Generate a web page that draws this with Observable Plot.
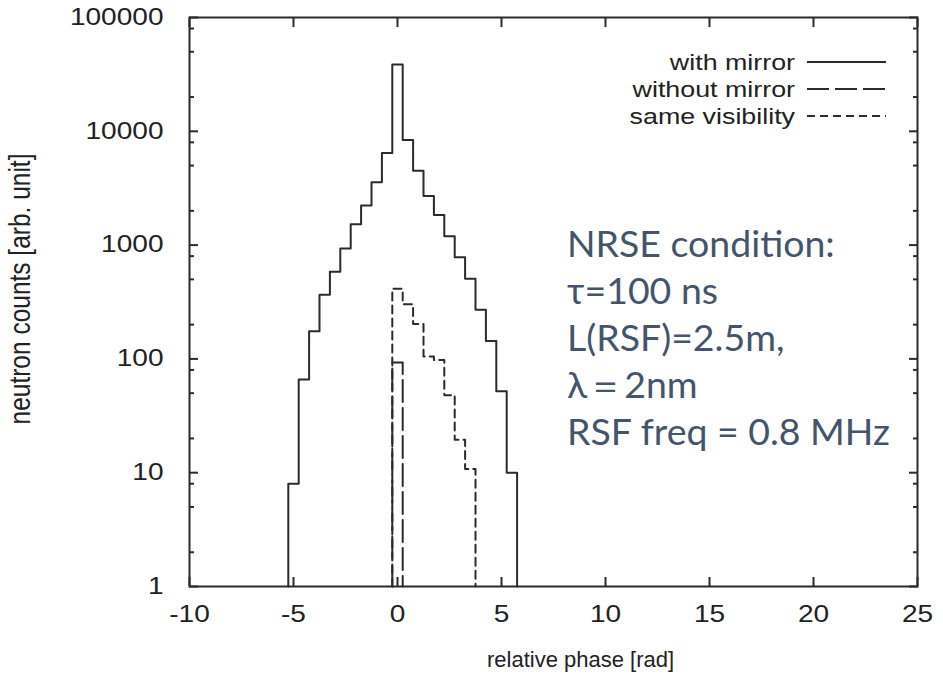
<!DOCTYPE html>
<html><head><meta charset="utf-8">
<script src="https://cdn.jsdelivr.net/npm/d3@7"></script>
<script src="https://cdn.jsdelivr.net/npm/@observablehq/plot@0.6"></script>
<style>
html,body{margin:0;padding:0;background:#fff;}
#chart{position:relative;width:943px;height:690px;}
</style></head>
<body><div id="chart"></div>
<script>
// ---- data ----
const phaseTicks = [-10, -5, 0, 5, 10, 15, 20, 25];
const countTicks = [1, 10, 100, 1000, 10000, 100000];
const countMinorTicks = [2, 5, 8, 20, 50, 80, 200, 500, 800, 2000, 5000, 8000, 20000, 50000, 80000];

const mirrorEdges = [-5.25, -4.75, -4.25, -3.75, -3.25, -2.75, -2.25, -1.75, -1.25, -0.75, -0.25, 0.25, 0.75, 1.25, 1.75, 2.25, 2.75, 3.25, 3.75, 4.25, 4.75, 5.25, 5.75];
const mirrorCounts = [8, 66, 175, 367, 584, 935, 1523, 2229, 3571, 6460, 38650, 8390, 4505, 2706, 1836, 1198, 781, 507, 270, 144, 52, 10];

const noMirrorEdges = [-0.25, 0.25];
const noMirrorCounts = [93];

const sameVisEdges = [-0.25, 0.25, 0.75, 1.25, 1.75, 2.25, 2.75, 3.25, 3.75];
const sameVisCounts = [414, 302, 203, 105, 98, 48, 19.5, 10.8];

const seriesNames = ["with mirror", "without mirror", "same visibility"];
const noteLines = ["NRSE condition:", "τ=100 ns", "L(RSF)=2.5m,", "λ＝2nm", "RSF freq = 0.8 MHz"];
const xLabel = "relative phase [rad]";
const yLabel = "neutron counts [arb. unit]";

// ---- styles / layout ----
const ink = "#2b2b2b";
const dashes = [null, "22,6", "8,5"];
const baseline = countTicks[0];
const W = 943, H = 690, mL = 189, mR = 26, mT = 17, mB = 104;
const major = 9, minor = 5;
const blank = () => "";
const lw = 2;

function outline(edges, counts) {
  const pts = [{x: edges[0], y: baseline}];
  counts.forEach((c, i) => { pts.push({x: edges[i], y: c}, {x: edges[i + 1], y: c}); });
  pts.push({x: edges[edges.length - 1], y: baseline});
  return pts;
}

const tickStyle = {label: null, tickFormat: blank, stroke: ink, strokeWidth: lw};

const plot = Plot.plot({
  width: W, height: H,
  marginLeft: mL, marginRight: mR, marginTop: mT, marginBottom: mB,
  style: {fontFamily: "'Liberation Sans', Arial, sans-serif", fontSize: "23px", color: "#222", background: "#fff"},
  x: {domain: [phaseTicks[0], phaseTicks[phaseTicks.length - 1]]},
  y: {type: "log", domain: [countTicks[0], countTicks[countTicks.length - 1]]},
  marks: [
    Plot.axisX({anchor: "bottom", ticks: phaseTicks, tickSize: 0, tickPadding: 19, tickFormat: d => String(d), label: null, fontSize: 23}),
    Plot.axisY({anchor: "left", ticks: countTicks, tickSize: 0, tickPadding: 26, tickFormat: d => String(d), label: null, fontSize: 23}),
    // inward ticks on all four sides
    Plot.axisX({anchor: "bottom", ticks: phaseTicks, tickSize: major, dy: -major, ...tickStyle}),
    Plot.axisX({anchor: "top", ticks: phaseTicks, tickSize: major, dy: major, ...tickStyle}),
    Plot.axisY({anchor: "left", ticks: countTicks, tickSize: major, dx: major, ...tickStyle}),
    Plot.axisY({anchor: "right", ticks: countTicks, tickSize: major, dx: -major, ...tickStyle}),
    Plot.axisY({anchor: "left", ticks: countMinorTicks, tickSize: minor, dx: minor, ...tickStyle}),
    Plot.axisY({anchor: "right", ticks: countMinorTicks, tickSize: minor, dx: -minor, ...tickStyle}),
    Plot.line(outline(mirrorEdges, mirrorCounts), {x: "x", y: "y", stroke: ink, strokeWidth: lw}),
    Plot.line(outline(noMirrorEdges, noMirrorCounts), {x: "x", y: "y", stroke: ink, strokeWidth: lw, strokeDasharray: dashes[1]}),
    Plot.line(outline(sameVisEdges, sameVisCounts), {x: "x", y: "y", stroke: ink, strokeWidth: lw, strokeDasharray: dashes[2]}),
    Plot.frame({stroke: ink, strokeWidth: lw}),
    Plot.text([xLabel], {frameAnchor: "bottom", textAnchor: "middle", dy: 80, dx: 27, fontSize: 22, fill: "#222"}),
    Plot.text([yLabel], {frameAnchor: "left", textAnchor: "middle", rotate: -90, dx: -169, dy: -13, fontSize: 24.5, fill: "#222"})
  ]
});

document.getElementById("chart").appendChild(plot);

const svg = d3.select(plot);
const xs = plot.scale("x"), ys = plot.scale("y");
const frameRight = Math.max(...xs.range), frameLeft = Math.min(...xs.range);
const frameTop = Math.min(...ys.range);

// legend
const lg = svg.append("g").attr("font-family", "'Liberation Sans', Arial, sans-serif").attr("font-size", 22).attr("fill", "#222");
seriesNames.forEach((name, i) => {
  const yy = frameTop + 45 + 27 * i;
  lg.append("text").attr("transform", `translate(${frameRight - 122},${yy})`).attr("text-anchor", "end").attr("dy", "0.35em").text(name);
  lg.append("line").attr("x1", frameRight - 110).attr("x2", frameRight - 31).attr("y1", yy).attr("y2", yy)
    .attr("stroke", ink).attr("stroke-width", lw).attr("stroke-dasharray", dashes[i]);
});

// horizontal stretch of the chart's Arial-like texts (the source figure is stretched)
svg.selectAll("text").each(function() {
  const t = this.getAttribute("transform");
  if (!t) return;
  if (this.textContent === xLabel) return;
  this.setAttribute("transform", t + (t.includes("rotate") ? " scale(1,1.22)" : " scale(1.22,1)"));
});

// annotation block
const note = svg.append("text").attr("font-family", "Lato, 'Open Sans', sans-serif").attr("fill", "#44546A")
  .attr("font-size", 36).attr("text-anchor", "start");
noteLines.forEach((s, i) => {
  note.append("tspan").attr("x", frameLeft + 378).attr("y", frameTop + 240 + 47 * i).text(s);
});
const lastSpan = note.selectAll("tspan").nodes()[noteLines.length - 1];
const w = lastSpan.getComputedTextLength();
if (w > 0) note.attr("font-size", 36 * 323 / w);
</script>
</body></html>
